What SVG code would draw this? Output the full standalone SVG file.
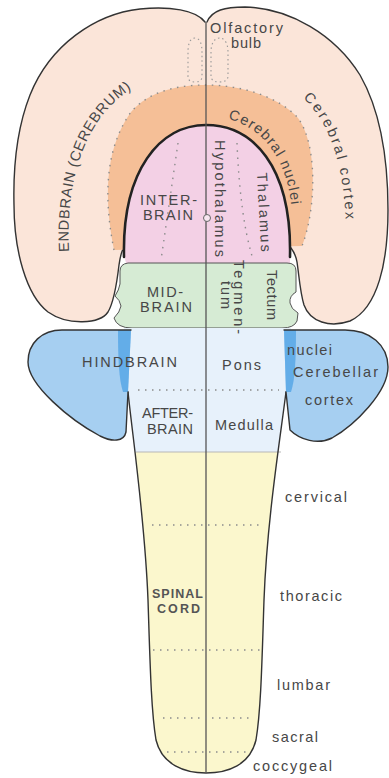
<svg xmlns="http://www.w3.org/2000/svg" width="389" height="778" viewBox="0 0 389 778">
  <style>
    .lbl { font-family: "Liberation Sans", Arial, sans-serif; font-size: 14.5px; fill: #474747; }
    .small { font-size: 12.5px; font-weight: bold; fill: #555; }
    .outline { fill: none; stroke: #333; stroke-width: 1.4; stroke-linejoin: round; stroke-linecap: round; }
    .thick { fill: none; stroke: #222; stroke-width: 2.6; stroke-linecap: round; }
    .dots { fill: none; stroke: #8c8c8c; stroke-width: 1.4; stroke-dasharray: 1.5 5.5; }
    .bulb { fill: none; stroke: #999; stroke-width: 1.1; stroke-dasharray: 1.5 3; }
  </style>
  <defs>
    <path id="endbrainArc" d="M 69,252 C 65,170 90,110 140,84"/>
    <path id="cortexArc" d="M 303,98 C 327,120 345,160 346,232"/>
    <path id="nucleiArc" d="M 228,119 C 262,127 290,160 292,217"/>
    <clipPath id="cordClip">
      <path d="M 124,328 L 291,328 L 286,392 C 280,440 267,520 264,600 C 262,660 261,710 256,740 C 250,765 228,773 206,773 C 185,773 162,765 156,740 C 151,710 150,660 148,600 C 145,520 133,440 128,392 Z"/>
    </clipPath>
  </defs>

  <rect width="389" height="778" fill="#ffffff"/>

  <!-- endbrain: both hemispheres -->
  <g id="endbrain">
    <path fill="#fbe5d9" d="M 205,22 C 196,10 170,6 140,9 C 95,14 50,45 30,95 C 17,128 13,165 14,205 C 14,250 26,295 48,312 C 68,326 100,324 108,312 C 114,302 117,282 119,265 C 120,258 121,253 123,249 L 206,250 L 206,22 Z"/>
    <path fill="#fbe5d9" d="M 207,22 C 212,10 225,7 245,7 C 290,8 335,35 360,75 C 380,110 388,160 388,210 C 388,262 378,308 350,321 C 330,328 310,322 304,305 C 300,292 299,275 297,262 C 296,256 294,252 291,248 L 206,250 L 206,22 Z"/>
    <path class="outline" d="M 205,22 C 196,10 170,6 140,9 C 95,14 50,45 30,95 C 17,128 13,165 14,205 C 14,250 26,295 48,312 C 68,326 100,324 108,312 C 114,302 117,282 119,265 C 120,258 121,253 123,249"/>
    <path class="outline" d="M 207,22 C 212,10 225,7 245,7 C 290,8 335,35 360,75 C 380,110 388,160 388,210 C 388,262 378,308 350,321 C 330,328 310,322 304,305 C 300,292 299,275 297,262 C 296,256 294,252 291,248"/>
  </g>

  <!-- olfactory bulbs -->
  <g id="olfactory-bulbs">
    <path class="bulb" d="M 195,38 C 190,38 188,44 188,52 L 188,76 C 188,80 190,82 195,82 C 200,82 202,80 202,76 L 202,52 C 202,44 200,38 195,38 Z"/>
    <path class="bulb" d="M 219.5,38 C 214,38 211,44 211,52 L 211,76 C 211,80 214,82 219.5,82 C 225,82 228,80 228,76 L 228,52 C 228,44 225,38 219.5,38 Z"/>
  </g>

  <!-- cerebral nuclei band -->
  <g id="cerebral-nuclei">
    <path fill="#f5bf97" d="M 114,250 C 104,200 104,150 131,112 C 150,90 180,85 206,85 C 240,85 278,96 298,118 C 318,145 316,210 302,246 Z"/>
    <path class="dots" stroke-dasharray="1.3 3.5" d="M 114,250 C 104,200 104,150 131,112 C 150,90 180,85 206,85 C 240,85 278,96 298,118 C 318,145 316,210 302,246"/>
  </g>

  <!-- interbrain -->
  <g id="interbrain">
    <path fill="#f3d0e5" d="M 124,255 C 122,170 160,125 206,125 C 252,125 292,165 290,255 L 290,263 L 126,263 Z"/>
    <path class="thick" d="M 124,257 C 122,170 160,125 206,125 C 252,125 292,165 290,257"/>
  </g>

  <!-- midbrain -->
  <g id="midbrain">
    <path fill="#d6ebd4" stroke="#555" stroke-width="1" d="M 128,263 L 287,263 Q 296,263 296,271 L 296,292 Q 289,296 290,303 Q 291,309 298,313 L 297,321 Q 294,328 282,328 L 132,328 Q 117,328 114,318 Q 120,312 121,306 Q 120,300 115,296 Q 119,290 120,284 L 120,271 Q 120,264 128,263 Z"/>
  </g>

  <!-- hindbrain, afterbrain and spinal cord -->
  <g id="spinal-cord">
    <g clip-path="url(#cordClip)">
      <rect x="110" y="326" width="190" height="126" fill="#e7f1fb"/>
      <rect x="110" y="452" width="190" height="330" fill="#fbf7cd"/>
    </g>
    <line x1="136" y1="452" x2="281" y2="452" stroke="#b8b8b8" stroke-width="1.2"/>
    <path class="outline" d="M 128,392 C 133,440 145,520 148,600 C 150,660 151,710 156,740 C 162,765 185,773 206,773 C 228,773 250,765 256,740 C 261,710 262,660 264,600 C 267,520 280,440 286,392"/>
  </g>

  <!-- cerebellar hemispheres -->
  <g id="cerebellum-left">
    <path fill="#a6cff1" d="M 131,330 L 62,330 C 42,330 28,343 28,362 C 28,385 70,420 100,436 C 112,442 124,442 126,432 L 128,392 Z"/>
    <path fill="#63ade8" d="M 118,330 L 131,330 L 128,392 L 123,392 C 119,380 118,360 118,330 Z"/>
    <path class="outline" d="M 131,330 L 62,330 C 42,330 28,343 28,362 C 28,385 70,420 100,436 C 112,442 124,442 126,432 L 128,392"/>
  </g>
  <g id="cerebellum-right">
    <path fill="#a6cff1" d="M 284,330 L 345,330 C 370,330 388,345 388,367 C 388,392 355,425 332,438 C 318,445 300,440 290,430 L 286,392 Z"/>
    <path fill="#63ade8" d="M 284,330 L 296,330 C 296,360 295,380 291,392 L 286,392 Z"/>
    <path class="outline" d="M 284,330 L 345,330 C 370,330 388,345 388,367 C 388,392 355,425 332,438 C 318,445 300,440 290,430 L 286,392"/>
  </g>

  <!-- midline and division lines -->
  <g id="divisions">
    <line x1="206" y1="22" x2="206" y2="773" stroke="#555" stroke-width="1.3"/>
    <circle cx="207" cy="218" r="3.5" fill="#f7e6f0" stroke="#666" stroke-width="1"/>
    <path class="dots" d="M 178,143 L 161,260"/>
    <path class="dots" d="M 237,143 Q 240,215 252,256"/>
    <path class="dots" d="M 138,390 L 279,390"/>
    <path class="dots" d="M 152,525 L 262,525"/>
    <path class="dots" d="M 153,650 L 261,650"/>
    <path class="dots" d="M 163,718 L 249,718"/>
    <path class="dots" d="M 167,752 L 247,752"/>
  </g>

  <!-- labels -->
  <g id="labels">
    <text class="lbl" x="210" y="33" textLength="73">Olfactory</text>
    <text class="lbl" x="231" y="48" textLength="30">bulb</text>
    <text class="lbl" font-size="14"><textPath href="#endbrainArc" textLength="183">ENDBRAIN (CEREBRUM)</textPath></text>
    <text class="lbl"><textPath href="#cortexArc" textLength="132">Cerebral cortex</textPath></text>
    <text class="lbl"><textPath href="#nucleiArc" textLength="114">Cerebral nuclei</textPath></text>
    <text class="lbl" transform="translate(215,140) rotate(90)" textLength="117">Hypothalamus</text>
    <text class="lbl" transform="translate(257,173) rotate(87)" textLength="79">Thalamus</text>
    <text class="lbl" x="140" y="205" textLength="57">INTER-</text>
    <text class="lbl" x="143" y="220" textLength="50">BRAIN</text>
    <text class="lbl" x="147" y="297" textLength="36">MID-</text>
    <text class="lbl" x="140" y="312" textLength="52">BRAIN</text>
    <text class="lbl" transform="translate(234,260) rotate(90)" textLength="74">Tegmen-</text>
    <text class="lbl" transform="translate(221,281) rotate(90)" textLength="28">tum</text>
    <text class="lbl" transform="translate(267,270) rotate(90)" textLength="50">Tectum</text>
    <text class="lbl" x="82" y="367" textLength="95">HINDBRAIN</text>
    <text class="lbl" x="222" y="370" textLength="39">Pons</text>
    <text class="lbl" x="287" y="355" textLength="45">nuclei</text>
    <text class="lbl" x="293" y="377" textLength="85">Cerebellar</text>
    <text class="lbl" x="305" y="405" textLength="48">cortex</text>
    <text class="lbl" x="142" y="418" textLength="51">AFTER-</text>
    <text class="lbl" x="147" y="434" textLength="46">BRAIN</text>
    <text class="lbl" x="215" y="430" textLength="58">Medulla</text>
    <text class="lbl small" x="152" y="598" textLength="51">SPINAL</text>
    <text class="lbl small" x="157" y="613" textLength="43">CORD</text>
    <text class="lbl" x="285" y="502" textLength="62">cervical</text>
    <text class="lbl" x="280" y="601" textLength="62">thoracic</text>
    <text class="lbl" x="277" y="690" textLength="53">lumbar</text>
    <text class="lbl" x="272" y="742" textLength="46">sacral</text>
    <text class="lbl" x="253" y="771" textLength="79">coccygeal</text>
  </g>
</svg>
